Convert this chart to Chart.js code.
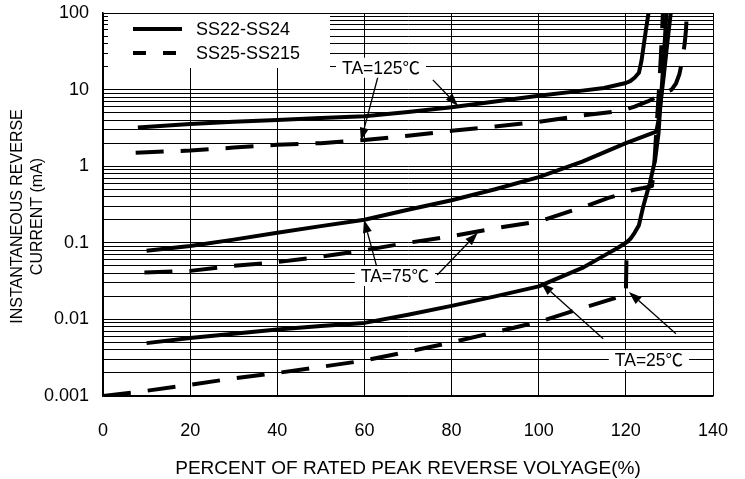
<!DOCTYPE html>
<html lang="en">
<head>
  <meta charset="UTF-8">
  <title>Reverse Current</title>
  <script src="https://cdn.jsdelivr.net/npm/chart.js"></script>
  <style>
    html, body { margin: 0; padding: 0; background: #fff; }
    #wrap { width: 745px; height: 479px; }
  </style>
</head>
<body>
  <div id="wrap"><canvas id="curChart" width="745" height="479"></canvas></div>

  <script>
    // percent of rated peak reverse voltage vs. instantaneous reverse current (mA)
    const solid125X = [8, 20, 30, 40, 50, 60, 70, 80, 90, 100, 110, 115, 120, 121, 122, 123, 123.6, 124.1, 124.6, 125.2];
    const solid125Y = [3.2, 3.55, 3.8, 4.0, 4.25, 4.5, 5.1, 5.9, 7.0, 8.3, 9.7, 10.5, 12.2, 12.9, 14.3, 16.6, 24, 38, 60, 100];

    const dash125X = [7.5, 20, 30, 40, 50, 60, 70, 80, 90, 100, 110, 118, 120, 122, 125, 128, 130.5, 131.5, 132.3, 133, 133.5, 133.8, 134];
    const dash125Y = [1.5, 1.6, 1.75, 1.9, 2.0, 2.2, 2.5, 2.9, 3.3, 3.8, 4.6, 5.2, 5.5, 6, 7, 8.5, 10, 12, 16, 25, 40, 60, 100];

    const solid75X = [10, 20, 30, 40, 50, 60, 70, 80, 90, 100, 110, 120, 127, 127.5, 128, 128.7, 129.5, 130.3];
    const solid75Y = [0.079, 0.091, 0.11, 0.135, 0.165, 0.2, 0.27, 0.36, 0.5, 0.72, 1.15, 2.0, 2.83, 4, 7, 15, 40, 100];

    const dash75X = [9.5, 20, 30, 40, 50, 60, 70, 80, 90, 100, 110, 116, 120, 121.6, 124, 126, 126.5, 127, 127.6, 128, 128.5];
    const dash75Y = [0.041, 0.043, 0.05, 0.056, 0.066, 0.08, 0.1, 0.122, 0.155, 0.19, 0.29, 0.385, 0.45, 0.49, 0.52, 0.55, 1.0, 3, 10, 25, 100];

    const solid25X = [10, 20, 30, 40, 50, 60, 70, 80, 90, 100, 110, 115, 118, 120, 121, 122, 123, 124, 125, 125.5, 126.2, 126.7, 127.2, 127.5, 127.8, 128.2, 128.7, 129.3];
    const solid25Y = [0.0049, 0.0057, 0.0065, 0.0074, 0.0082, 0.009, 0.0115, 0.015, 0.02, 0.027, 0.047, 0.068, 0.085, 0.1, 0.112, 0.135, 0.17, 0.3, 0.48, 0.6, 0.9, 1.2, 2.0, 2.7, 5, 10, 25, 100];

    const dash25X = [0, 10, 20, 30, 40, 50, 60, 70, 80, 90, 100, 110, 120, 120.2];
    const dash25Y = [0.001, 0.00117, 0.0014, 0.0017, 0.002, 0.0024, 0.0029, 0.0038, 0.005, 0.0068, 0.0093, 0.014, 0.021, 0.1];

    const xTicks = [0, 20, 40, 60, 80, 100, 120, 140];
    const yDecades = [0.001, 0.01, 0.1, 1, 10, 100];
    const yLabels = ['0.001', '0.01', '0.1', '1', '10', '100'];
    const yTitle = ['INSTANTANEOUS REVERSE', 'CURRENT (mA)'];

    const legendItems = ['SS22-SS24', 'SS25-SS215'];

    // text labels: [text, x, y] in data units, arrows: [fromX, fromY, toX, toY]
    const notes = [
      { text: 'TA=125\u2103', x: 63.8, y: 19.3, arrows: [[63.1, 14.7, 59.2, 2.15], [75.7, 13.4, 81.5, 6.1]] },
      { text: 'TA=75\u2103', x: 67, y: 0.0368, arrows: [[62.9, 0.047, 59.9, 0.2], [76.7, 0.038, 86, 0.135]] },
      { text: 'TA=25\u2103', x: 125.3, y: 0.00294, arrows: [[131.5, 0.0065, 120.7, 0.0228], [114.8, 0.0056, 100.5, 0.03]] }
    ];

    const FONT = 'Arial, "Liberation Sans", "Noto Sans CJK SC", sans-serif';
    const DASH = [28, 17];

    const toPoints = (xs, ys) => xs.map((x, i) => ({ x: x, y: ys[i] }));

    const line = (xs, ys, dashed) => ({
      data: toPoints(xs, ys),
      borderColor: '#000',
      borderWidth: 4,
      borderDash: dashed ? DASH : [],
      borderCapStyle: 'butt',
      borderJoinStyle: 'round',
      pointRadius: 0,
      fill: false,
      tension: 0
    });

    const drawArrow = (ctx, x1, y1, x2, y2) => {
      const ang = Math.atan2(y2 - y1, x2 - x1);
      const len = 13, half = 4.5;
      const bx = x2 - len * Math.cos(ang), by = y2 - len * Math.sin(ang);
      ctx.beginPath();
      ctx.moveTo(x1, y1);
      ctx.lineTo(bx, by);
      ctx.stroke();
      ctx.beginPath();
      ctx.moveTo(x2, y2);
      ctx.lineTo(bx + half * Math.sin(ang), by - half * Math.cos(ang));
      ctx.lineTo(bx - half * Math.sin(ang), by + half * Math.cos(ang));
      ctx.closePath();
      ctx.fill();
    };

    const overlay = {
      id: 'overlay',
      afterDatasetsDraw(chart) {
        const ctx = chart.ctx;
        const area = chart.chartArea;
        const xs = chart.scales.x, ys = chart.scales.y;
        ctx.save();

        // legend box
        ctx.fillStyle = '#fff';
        ctx.fillRect(area.left + 5, area.top + 1, 222, 54);
        ctx.strokeStyle = '#000';
        ctx.lineWidth = 4;
        ctx.lineCap = 'butt';
        legendItems.forEach((name, i) => {
          const y = area.top + 16 + i * 24;
          ctx.setLineDash(i === 0 ? [] : [13, 17]);
          ctx.beginPath();
          ctx.moveTo(area.left + 30, y);
          ctx.lineTo(area.left + 79, y);
          ctx.stroke();
          ctx.setLineDash([]);
          ctx.fillStyle = '#000';
          ctx.font = '18px ' + FONT;
          ctx.textAlign = 'left';
          ctx.textBaseline = 'middle';
          ctx.fillText(name, area.left + 93, y + 1);
        });

        // temperature labels and arrows
        ctx.font = '17.5px ' + FONT;
        ctx.textAlign = 'center';
        ctx.textBaseline = 'middle';
        notes.forEach(n => {
          ctx.strokeStyle = '#000';
          ctx.fillStyle = '#000';
          ctx.lineWidth = 1.3;
          n.arrows.forEach(a => {
            drawArrow(ctx, xs.getPixelForValue(a[0]), ys.getPixelForValue(a[1]),
              xs.getPixelForValue(a[2]), ys.getPixelForValue(a[3]));
          });
          const cx = xs.getPixelForValue(n.x), cy = ys.getPixelForValue(n.y);
          const w = ctx.measureText(n.text).width + 12;
          ctx.fillStyle = '#fff';
          ctx.fillRect(cx - w / 2, cy - 10, w, 20);
          ctx.fillStyle = '#000';
          ctx.fillText(n.text, cx, cy + 1);
        });

        // y axis title, two lines
        ctx.translate(0, (area.top + area.bottom) / 2 + 12);
        ctx.rotate(-Math.PI / 2);
        ctx.font = '16px ' + FONT;
        ctx.fillStyle = '#000';
        yTitle.forEach((t, i) => ctx.fillText(t, 0, 18 + i * 19.5));
        ctx.restore();
      }
    };

    document.addEventListener('DOMContentLoaded', function() {
      const ctx = document.getElementById('curChart').getContext('2d');
      new Chart(ctx, {
        type: 'line',
        data: {
          datasets: [
            line(solid125X, solid125Y, false),
            line(dash125X, dash125Y, true),
            line(solid75X, solid75Y, false),
            line(dash75X, dash75Y, true),
            line(solid25X, solid25Y, false),
            line(dash25X, dash25Y, true)
          ]
        },
        options: {
          responsive: false,
          animation: false,
          layout: { padding: { left: 0, right: 32, top: 13, bottom: 0 } },
          plugins: { legend: { display: false }, tooltip: { enabled: false } },
          scales: {
            x: {
              type: 'linear',
              min: 0,
              max: 140,
              afterBuildTicks: s => { s.ticks = xTicks.map(v => ({ value: v })); },
              afterFit: s => { s.height = 83; s.paddingLeft = 0; s.paddingRight = 0; },
              grid: { color: '#000', lineWidth: 1, drawTicks: false },
              border: { color: '#000', width: 1.5 },
              ticks: { color: '#000', padding: 24, font: { size: 18, family: FONT } },
              title: {
                display: true,
                text: 'PERCENT OF RATED PEAK REVERSE VOLYAGE(%)',
                color: '#000',
                font: { size: 19, family: FONT },
                padding: { top: 4, bottom: -1 }
              }
            },
            y: {
              type: 'logarithmic',
              min: 0.001,
              max: 100,
              afterBuildTicks: s => {
                const t = [];
                yDecades.forEach((d, i) => {
                  if (i === yDecades.length - 1) { t.push({ value: d }); return; }
                  for (let k = 1; k < 10; k++) t.push({ value: +(d * k).toPrecision(3) });
                });
                s.ticks = t;
              },
              afterFit: s => { s.width = 103; s.paddingTop = 0; s.paddingBottom = 0; },
              grid: { color: '#000', lineWidth: 1, drawTicks: false },
              border: { color: '#000', width: 1.5 },
              ticks: {
                autoSkip: false,
                color: '#000',
                padding: 14,
                font: { size: 18, family: FONT },
                callback: v => {
                  const i = yDecades.findIndex(d => Math.abs(d - v) < d * 1e-6);
                  return i >= 0 ? yLabels[i] : '';
                }
              }
            }
          }
        },
        plugins: [overlay]
      });
    });
  </script>
</body>
</html>
